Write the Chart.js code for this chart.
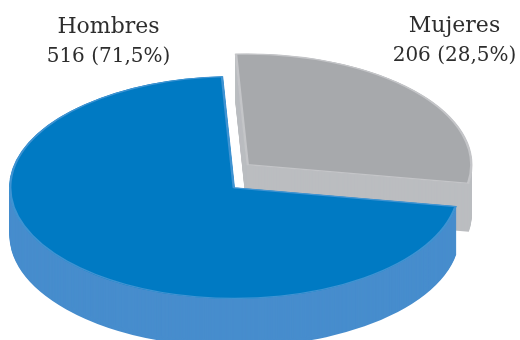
<!DOCTYPE html>
<html>
<head>
<meta charset="utf-8">
<style>
  html, body { margin: 0; padding: 0; background: #fff; }
  canvas { display: block; }
</style>
<script src="https://cdn.jsdelivr.net/npm/chart.js@4/dist/chart.umd.js"></script>
</head>
<body>
<canvas id="pie" width="520" height="340"></canvas>
<script>
// Respondents by sex
const categories = ['Hombres', 'Mujeres'];
const counts = [516, 206];
const shares = ['71,5%', '28,5%'];

const topColors = ['#007ac3', '#a7a9ac'];
const rimColors = ['#3f93d2', '#c4c5c8'];
const wallColors = ['#478dcd', '#bbbdc0'];

// Tilted disc: projected radii, centre, wall height, and how far each slice is pulled out
const disc = { cx: 234.5, cy: 187.5, rx: 225.5, ry: 111.5, depth: 48 };
const pull = [[0, 0], [12.5, -22.5]];

// Where each caption is centred, with its two baselines
const captions = [
  { x: 108.5, y1: 33, y2: 62 },
  { x: 454.5, y1: 32, y2: 60.5 }
];

const startAngle = -3 + counts[1] / (counts[0] + counts[1]) * 360;

const tiltedDisc = {
  id: 'tiltedDisc',
  beforeDatasetDraw(chart, args) {
    const ctx = chart.ctx;
    const arcs = chart.getDatasetMeta(args.index).data;
    // The pulled-out slice sits behind the larger one
    for (let i = arcs.length - 1; i >= 0; i--) {
      const arc = arcs[i];
      const base = arc.options;
      const place = (dy) => {
        ctx.translate(disc.cx + pull[i][0], disc.cy + pull[i][1] + dy);
        ctx.scale(disc.rx / arc.outerRadius, disc.ry / arc.outerRadius);
        ctx.translate(-arc.x, -arc.y);
      };
      arc.options = Object.assign({}, base, { backgroundColor: wallColors[i], borderWidth: 0 });
      for (let dy = disc.depth; dy > 0; dy--) {
        ctx.save();
        place(dy);
        arc.draw(ctx);
        ctx.restore();
      }
      arc.options = base;
      ctx.save();
      place(0);
      arc.draw(ctx);
      ctx.restore();
    }
    return false;
  },
  afterDraw(chart) {
    const ctx = chart.ctx;
    ctx.save();
    ctx.fillStyle = '#2d2d2d';
    ctx.textAlign = 'center';
    ctx.textBaseline = 'alphabetic';
    categories.forEach((name, i) => {
      ctx.font = '22px "DejaVu Serif"';
      ctx.fillText(name, captions[i].x, captions[i].y1);
      ctx.font = '20px "DejaVu Serif"';
      ctx.fillText(counts[i] + ' (' + shares[i] + ')', captions[i].x, captions[i].y2);
    });
    ctx.restore();
  }
};

new Chart(document.getElementById('pie'), {
  type: 'pie',
  data: {
    labels: categories,
    datasets: [{
      data: counts,
      backgroundColor: topColors,
      borderColor: rimColors,
      borderWidth: 1.5,
      borderAlign: 'inner'
    }]
  },
  options: {
    responsive: false,
    animation: false,
    rotation: startAngle,
    layout: { padding: 0 },
    plugins: { legend: { display: false }, tooltip: { enabled: false } }
  },
  plugins: [tiltedDisc]
});
</script>
</body>
</html>
